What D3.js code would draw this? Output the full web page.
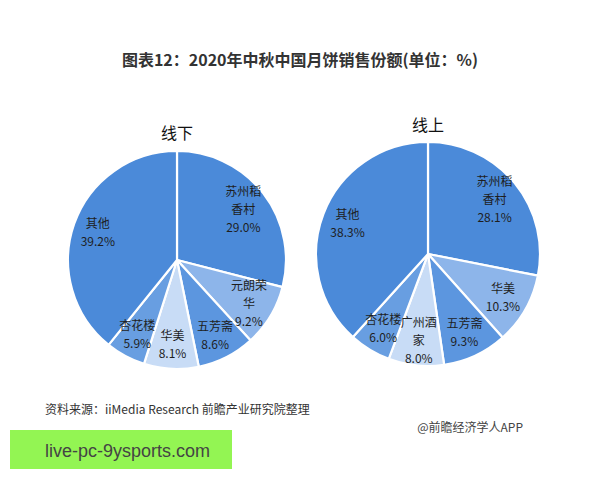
<!DOCTYPE html>
<html><head><meta charset="utf-8">
<script src="https://cdn.jsdelivr.net/npm/d3@7"></script>
<style>body{margin:0;background:#fff;}svg{display:block;font-family:"Noto Sans CJK SC","Noto Sans",sans-serif;}</style>
</head><body>
<script>
const title = "图表12：2020年中秋中国月饼销售份额(单位：%)";
const offlineTitle = "线下";
const offlineNames = ["苏州稻香村","元朗荣华","五芳斋","华美","杏花楼","其他"];
const offlineLines = [["苏州稻","香村"],["元朗荣","华"],["五芳斋"],["华美"],["杏花楼"],["其他"]];
const offlineValues = [29.0, 9.2, 8.6, 8.1, 5.9, 39.2];
const onlineTitle = "线上";
const onlineNames = ["苏州稻香村","华美","五芳斋","广州酒家","杏花楼","其他"];
const onlineLines = [["苏州稻","香村"],["华美"],["五芳斋"],["广州酒","家"],["杏花楼"],["其他"]];
const onlineValues = [28.1, 10.3, 9.3, 8.0, 6.0, 38.3];
const sliceColors = ["#4b8ad9","#8db5ea","#5c96df","#c8dcf6","#689ee1","#4b8ad9"];
const sourceText = "资料来源：iiMedia Research 前瞻产业研究院整理";
const creditText = "@前瞻经济学人APP";
const bannerText = "live-pc-9ysports.com";

const W = 600, H = 480;
const svg = d3.select("body").append("svg").attr("width", W).attr("height", H);

svg.append("text").attr("x", 300).attr("y", 66).attr("text-anchor", "middle")
  .attr("font-size", 16).attr("font-weight", "bold").attr("fill", "#333").text(title);

function drawPie(cx, cy, r, titleY, name, values, lines) {
  const g = svg.append("g").attr("transform", `translate(${cx},${cy})`);
  const pie = d3.pie().sort(null).value(d => d)(values);
  const arc = d3.arc().innerRadius(0).outerRadius(r);
  const labelArc = d3.arc().innerRadius(r * 0.77).outerRadius(r * 0.77);
  g.selectAll("path").data(pie).join("path")
    .attr("d", arc).attr("fill", (d, i) => sliceColors[i])
    .attr("stroke", "#fff").attr("stroke-width", 2.2).attr("stroke-linejoin", "round");
  const lg = g.selectAll("g.lab").data(pie).join("g").attr("class", "lab")
    .attr("transform", d => { const c = labelArc.centroid(d); return `translate(${c[0]},${c[1]})`; });
  lg.each(function(d, i) {
    const arr = lines[i].concat([d3.format(".1f")(values[i]) + "%"]);
    const n = arr.length, lh = 18;
    d3.select(this).selectAll("text").data(arr).join("text")
      .attr("text-anchor", "middle").attr("font-size", 12).attr("fill", "#1e1e1e")
      .attr("y", (t, k) => (k - (n - 1) / 2) * lh + 5).text(t => t);
  });
  svg.append("text").attr("x", cx).attr("y", titleY).attr("text-anchor", "middle")
    .attr("font-size", 16).attr("fill", "#111").text(name);
}

drawPie(177, 260, 109, 139, offlineTitle, offlineValues, offlineLines);
drawPie(428, 254, 112, 131, onlineTitle, onlineValues, onlineLines);

svg.append("text").attr("x", 45).attr("y", 414).attr("font-size", 12).attr("fill", "#333").text(sourceText);
svg.append("text").attr("x", 523).attr("y", 432).attr("text-anchor", "end").attr("font-size", 12).attr("fill", "#444").text(creditText);

svg.append("rect").attr("x", 10).attr("y", 430).attr("width", 222).attr("height", 39).attr("fill", "#93f553");
svg.append("text").attr("x", 45).attr("y", 457).attr("font-size", 18).attr("fill", "#444")
  .attr("font-family", "Arial, 'Liberation Sans', sans-serif").text(bannerText);
</script>
</body></html>
